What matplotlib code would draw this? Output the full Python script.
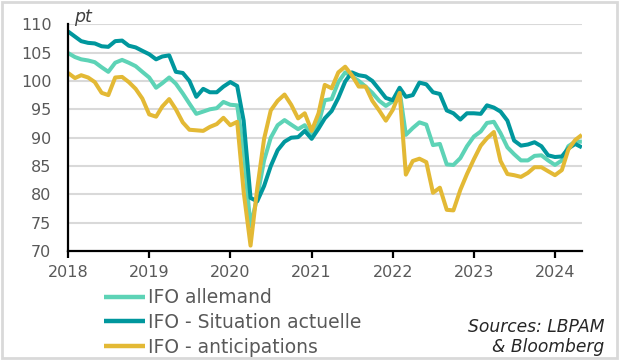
import numpy as np
import pandas as pd
import matplotlib
matplotlib.use('agg')
import matplotlib.pyplot as plt
import matplotlib.dates as mdates
import matplotlib.patches as mpatches

# monthly data, Jan 2018 -> May 2024
dates = pd.date_range('2018-01-01', '2024-05-01', freq='MS')

ifo_allemand = [104.9, 104.2, 103.8, 103.6, 103.3, 102.4, 101.6, 103.2, 103.7, 103.2, 102.6, 101.6,
                100.6, 98.8, 99.6, 100.6, 99.5, 97.8, 96.0, 94.2, 94.6, 95.0, 95.2, 96.3,
                95.8, 95.7, 87.5, 74.4, 79.5, 86.0, 90.0, 92.2, 93.1, 92.3, 91.5, 92.2,
                90.3, 92.5, 96.6, 96.8, 99.8, 101.5, 100.8, 100.0, 99.0, 97.9, 96.5, 95.6,
                96.4, 98.2, 90.5, 91.7, 92.7, 92.3, 88.7, 88.9, 85.3, 85.2, 86.4, 88.5,
                90.2, 91.1, 92.6, 92.8, 90.8, 88.3, 87.1, 86.0, 86.0, 86.8, 86.9, 86.0,
                85.2, 86.0, 88.5, 89.3, 89.3]

ifo_situation = [108.7, 107.8, 107.0, 106.7, 106.6, 106.1, 106.0, 107.0, 107.1, 106.2, 105.9, 105.3,
                 104.7, 103.8, 104.3, 104.5, 101.6, 101.4, 100.0, 97.2, 98.6, 98.0, 98.0, 99.0,
                 99.8, 99.1, 93.0, 79.4, 78.8, 81.5, 85.0, 87.8, 89.3, 90.0, 90.1, 91.2,
                 89.8, 91.6, 93.4, 94.7, 97.0, 99.9, 101.5, 101.0, 100.8, 100.0, 98.5, 97.0,
                 96.6, 98.8, 97.2, 97.5, 99.7, 99.4, 98.0, 97.7, 94.8, 94.3, 93.2, 94.3,
                 94.3, 94.2, 95.7, 95.3, 94.6, 93.0, 89.5, 88.6, 88.8, 89.2, 88.5, 86.9,
                 86.6, 86.7, 88.1, 88.9, 88.3]

ifo_anticipations = [101.4, 100.5, 101.0, 100.6, 99.8, 97.9, 97.5, 100.6, 100.7, 99.8, 98.6, 96.9,
                     94.1, 93.7, 95.5, 96.8, 95.0, 92.7, 91.4, 91.3, 91.2, 91.9, 92.4, 93.5,
                     92.2, 92.8, 80.5, 71.0, 81.0, 89.8, 94.8, 96.5, 97.6, 95.8, 93.4, 94.3,
                     91.2, 94.3, 99.3, 98.7, 101.5, 102.5, 101.0, 99.0, 99.0, 96.5, 94.8, 93.0,
                     94.9, 97.9, 83.5, 85.9, 86.3, 85.7, 80.3, 81.2, 77.3, 77.2, 80.8, 83.6,
                     86.2, 88.6, 89.9, 91.0, 85.9, 83.6, 83.4, 83.1, 83.8, 84.8, 84.8, 84.1,
                     83.4, 84.3, 87.9, 89.6, 90.5]

labels = ['IFO allemand', 'IFO - Situation actuelle', 'IFO - anticipations']
colors = ['#5dd3b6', '#00979d', '#e3b935']
years = list(range(2018, 2025))
yticks = list(range(70, 111, 5))

txtcol = '#595959'
font1 = 11.5
font2 = 13.5

fig = plt.figure(figsize=[6.19, 3.6], dpi=100)
ax = fig.add_axes([0.110, 0.302, 0.830, 0.631])

series = [ifo_allemand, ifo_situation, ifo_anticipations]
for idx in [0, 1, 2]:
    ax.plot(dates, series[idx], color=colors[idx], linewidth=2.9, label=labels[idx],
            solid_joinstyle='round', solid_capstyle='butt', zorder=3 + idx)

ax.set_ylim(70, 110)
ax.set_xlim(dates[0], dates[-1])
ax.set_yticks(yticks)
ax.set_xticks([pd.Timestamp(f'{y}-01-01') for y in years])
ax.xaxis.set_major_formatter(mdates.DateFormatter('%Y'))

for yy in yticks[1:]:
    ax.axhline(yy, color='#d9d9d9', linewidth=1.5, zorder=1)

for s in ['top', 'right']:
    ax.spines[s].set_visible(False)
for s in ['left', 'bottom']:
    ax.spines[s].set_color('black')
    ax.spines[s].set_linewidth(1.6)
    ax.spines[s].set_zorder(6)

ax.tick_params(axis='y', length=0, pad=12, labelsize=font1, labelcolor=txtcol)
ax.tick_params(axis='x', length=5, width=1.6, direction='out', pad=5,
               labelsize=font1, labelcolor=txtcol, color='black')

ax.text(0.012, 0.99, 'pt', transform=ax.transAxes, fontsize=12.5, style='italic',
        color='#404040', ha='left', va='bottom')

leg = fig.legend(loc='upper left', bbox_to_anchor=(0.168, 0.199), frameon=False,
                 fontsize=font2, handlelength=2.2, handletextpad=0.15,
                 labelspacing=0.3, borderaxespad=0, borderpad=0)
for t in leg.get_texts():
    t.set_color(txtcol)
for l in leg.get_lines():
    l.set_linewidth(3.2)

fig.text(0.976, 0.064, 'Sources: LBPAM\n& Bloomberg', ha='right', va='center',
         fontsize=12.3, style='italic', color='#262626', linespacing=1.1)

border = mpatches.Rectangle((0.004, 0.006), 0.992, 0.988, transform=fig.transFigure,
                            fill=False, edgecolor='#d9d9d9', linewidth=2)
fig.patches.append(border)

plt.savefig('out.png', format='png', dpi=100)
plt.close(fig)
